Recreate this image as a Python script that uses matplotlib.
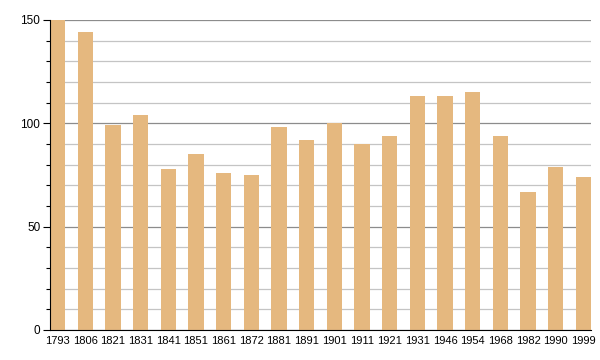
import matplotlib
matplotlib.use("Agg")
import matplotlib.pyplot as plt
import numpy as np

plt.rcParams['font.family'] = ['Liberation Sans', 'DejaVu Sans']

years = ["1793", "1806", "1821", "1831", "1841", "1851", "1861", "1872", "1881", "1891",
         "1901", "1911", "1921", "1931", "1946", "1954", "1968", "1982", "1990", "1999"]
population = [150, 144, 99, 104, 78, 85, 76, 75, 98, 92,
              100, 90, 94, 113, 113, 115, 94, 67, 79, 74]

fig = plt.figure(figsize=(6, 3.6), dpi=100)
ax = fig.add_axes([50/600, 30/360, 541/600, 310/360])

x = np.arange(len(years))
ax.bar(x, population, width=0.55, color='#E5B87F', zorder=3)

ax.set_ylim(0, 150)
ax.set_xlim(-0.275, len(years) - 1 + 0.275)
ax.set_yticks([0, 50, 100, 150])
ax.set_yticks(np.arange(0, 151, 10), minor=True)
ax.set_xticks(x)
ax.set_xticklabels(years)

ax.grid(axis='y', which='minor', color='#c4c4c4', linewidth=0.9, zorder=1)
ax.grid(axis='y', which='major', color='#8c8c8c', linewidth=0.9, zorder=2)

for s in ['top', 'right']:
    ax.spines[s].set_visible(False)
ax.spines['left'].set_color('black')
ax.spines['bottom'].set_color('black')
ax.spines['left'].set_zorder(4)
ax.spines['bottom'].set_zorder(4)

ax.tick_params(axis='y', which='major', length=5, width=0.8, labelsize=8.5, pad=2)
ax.tick_params(axis='y', which='minor', length=3, width=0.8)
ax.tick_params(axis='x', length=0, labelsize=8, pad=4)

fig.savefig('out.png')
